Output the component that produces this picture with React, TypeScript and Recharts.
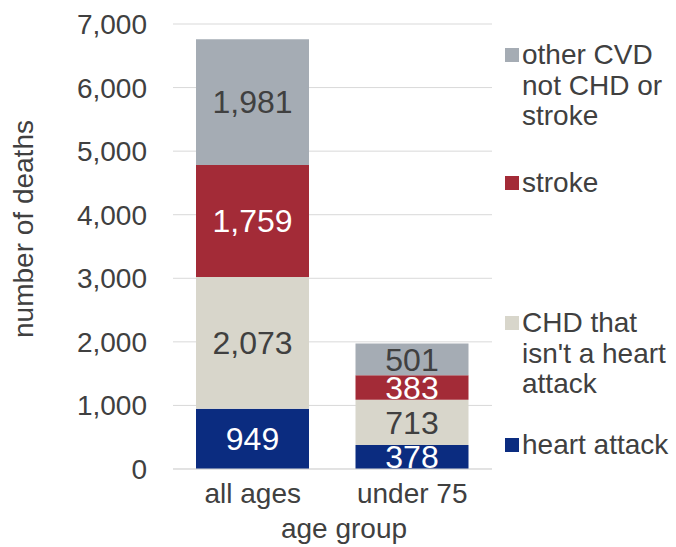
import React from 'react';
import { BarChart, Bar, XAxis, YAxis, CartesianGrid, Legend, LabelList, Label } from 'recharts';

// Age groups on the x axis
const ageGroups = ['all ages', 'under 75'];

// Deaths by cause, one value per age group (bottom of the stack first)
const heartAttack = [949, 378];
const chdNotHeartAttack = [2073, 713];
const stroke = [1759, 383];
const otherCvd = [1981, 501];

// Y axis ticks
const yTicks = [0, 1000, 2000, 3000, 4000, 5000, 6000, 7000];

const FONT = '"Liberation Sans", Arial, Helvetica, sans-serif';
const TEXT = '#404040';

type Series = {
  key: string;
  name: string;
  lines: string[];
  color: string;
  labelColor: string;
};

const series: Series[] = [
  { key: 'heartAttack', name: 'heart attack', lines: ['heart attack'], color: '#0b2c80', labelColor: '#ffffff' },
  { key: 'chd', name: "CHD that isn't a heart attack", lines: ['CHD that', "isn't a heart", 'attack'], color: '#d8d6cb', labelColor: TEXT },
  { key: 'stroke', name: 'stroke', lines: ['stroke'], color: '#a32b37', labelColor: '#ffffff' },
  { key: 'other', name: 'other CVD not CHD or stroke', lines: ['other CVD', 'not CHD or', 'stroke'], color: '#a5acb4', labelColor: TEXT },
];

const data = ageGroups.map((group, i) => ({
  group,
  heartAttack: heartAttack[i],
  chd: chdNotHeartAttack[i],
  stroke: stroke[i],
  other: otherCvd[i],
}));

const fmt = (v: any) => Number(v).toLocaleString('en-US');

// Legend entries listed top to bottom (reverse of the stack order)
const legendTops = [40, 168, 308, 430];

const renderLegend = () => (
  <div style={{ position: 'relative', width: 676, height: 547, fontFamily: FONT, fontSize: 28, color: TEXT }}>
    {[...series].reverse().map((s, i) => (
      <div key={s.key} style={{ position: 'absolute', left: 505, top: legendTops[i] }}>
        <div style={{ position: 'absolute', left: 0, top: 8, width: 14, height: 14, background: s.color }} />
        <div style={{ marginLeft: 17, lineHeight: '30.5px', whiteSpace: 'nowrap' }}>
          {s.lines.map((l) => (
            <div key={l}>{l}</div>
          ))}
        </div>
      </div>
    ))}
  </div>
);

export default function App() {
  return (
    <div style={{ position: 'absolute', left: 0, top: 0, width: 676, height: 547, background: '#ffffff' }}>
      <BarChart
        width={676}
        height={547}
        data={data}
        margin={{ top: 24, right: 184, bottom: 0, left: 0 }}
        style={{ fontFamily: FONT }}
      >
        <CartesianGrid vertical={false} stroke="#d9d9d9" />
        <XAxis
          dataKey="group"
          height={78}
          axisLine={{ stroke: '#d9d9d9' }}
          tickLine={false}
          tickSize={0}
          tickMargin={14}
          tick={{ fill: TEXT, fontSize: 28, fontFamily: FONT }}
        >
          <Label
            content={() => (
              <text x={344} y={538} textAnchor="middle" fill={TEXT} fontSize={28} fontFamily={FONT}>
                age group
              </text>
            )}
          />
        </XAxis>
        <YAxis
          width={173}
          domain={[0, 7000]}
          ticks={yTicks}
          axisLine={false}
          tickLine={false}
          tickSize={0}
          tickMargin={26}
          tickFormatter={fmt}
          tick={{ fill: TEXT, fontSize: 28, fontFamily: FONT }}
        >
          <Label
            content={() => (
              <text
                x={33}
                y={229}
                transform="rotate(-90 33 229)"
                textAnchor="middle"
                fill={TEXT}
                fontSize={28}
                fontFamily={FONT}
              >
                number of deaths
              </text>
            )}
          />
        </YAxis>
        <Legend
          layout="horizontal"
          verticalAlign="middle"
          align="center"
          content={renderLegend}
          wrapperStyle={{ left: 0, top: 0, width: 676, height: 547, pointerEvents: 'none' }}
        />
        {series.map((s) => (
          <Bar key={s.key} dataKey={s.key} name={s.name} stackId="deaths" fill={s.color} barSize={113} isAnimationActive={false}>
            <LabelList
              dataKey={s.key}
              position="center"
              formatter={fmt}
              fill={s.labelColor}
              fontSize={32}
              fontFamily={FONT}
            />
          </Bar>
        ))}
      </BarChart>
    </div>
  );
}
